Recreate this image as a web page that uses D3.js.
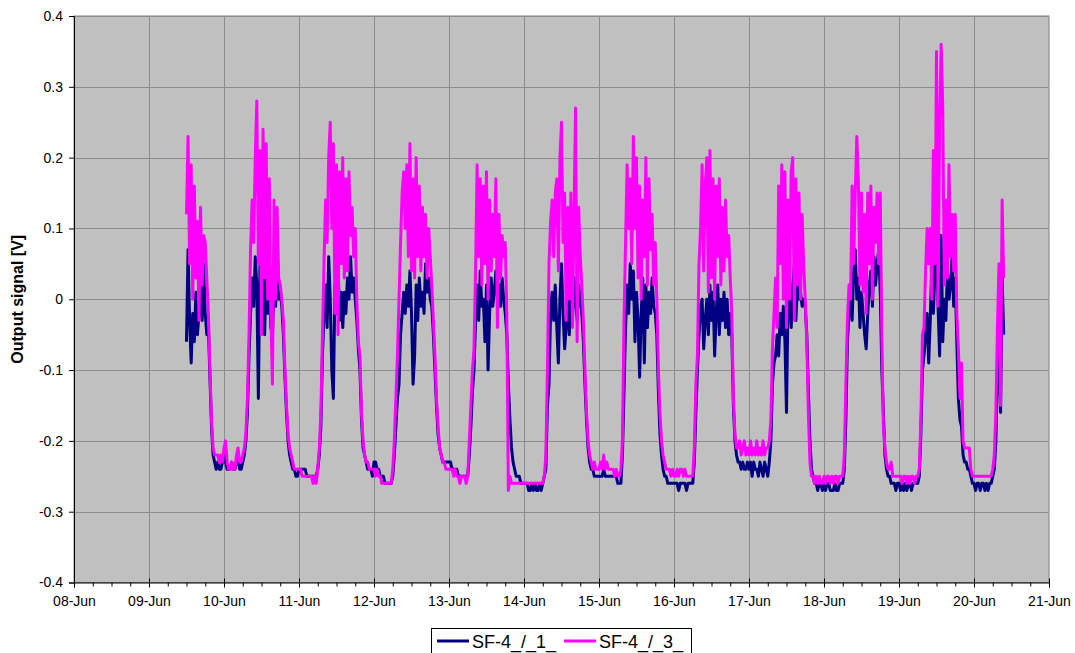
<!DOCTYPE html>
<html>
<head>
<meta charset="utf-8">
<script src="https://cdn.jsdelivr.net/npm/d3@7"></script>
<style>
  body { margin: 0; background: #fff; }
  svg { display: block; font-family: Arial, "Liberation Sans", sans-serif; }
</style>
</head>
<body>
<svg width="1075" height="653"></svg>
<script>
// axis setup
const yTicks = [-0.4, -0.3, -0.2, -0.1, 0, 0.1, 0.2, 0.3, 0.4]
const xStart = '2007-06-08'
const xEnd = '2007-06-21'

// readings every half hour, one array per day
// first day starts at noon, last day stops at 09:30
const dataDays = ['2007-06-09', '2007-06-10', '2007-06-11', '2007-06-12', '2007-06-13', '2007-06-14',
  '2007-06-15', '2007-06-16', '2007-06-17', '2007-06-18', '2007-06-19', '2007-06-20']
const firstHour = 12
const stepHours = 0.5

// SF-4_/_1_ (navy)
const sf41_09 = [-0.06, 0.07, -0.03, -0.09, -0.02, -0.06, 0.01, -0.05, -0.02, 0.03, -0.03, 0.05,
  -0.02, -0.05, -0.04, -0.11, -0.18, -0.22, -0.23, -0.24, -0.23, -0.24, -0.24, -0.23]
const sf41_10 = [-0.22, -0.23, -0.24, -0.24, -0.24, -0.23, -0.24, -0.24, -0.23, -0.22, -0.24, -0.24,
  -0.23, -0.22, -0.2, -0.16, -0.08, -0.02, 0.03, -0.01, 0.06, 0.02, -0.14, 0.05,
  -0.03, 0.07, -0.05, 0.04, -0.02, 0.03, -0.04, -0.05, 0.02, -0.01, 0.04, 0.0,
  0.01, -0.01, -0.05, -0.11, -0.16, -0.2, -0.22, -0.23, -0.24, -0.24, -0.25, -0.25]
const sf41_11 = [-0.24, -0.24, -0.24, -0.24, -0.24, -0.25, -0.25, -0.25, -0.25, -0.25, -0.25, -0.25,
  -0.24, -0.22, -0.18, -0.08, -0.02, 0.02, -0.04, 0.06, 0.0, -0.1, -0.14, 0.02,
  -0.02, 0.05, -0.03, 0.01, -0.04, 0.01, -0.02, 0.03, 0.0, 0.06, 0.01, 0.03,
  0.0, -0.03, -0.07, -0.1, -0.17, -0.21, -0.22, -0.23, -0.24, -0.24, -0.24, -0.25]
const sf41_12 = [-0.23, -0.23, -0.24, -0.24, -0.25, -0.25, -0.25, -0.26, -0.26, -0.26, -0.26, -0.26,
  -0.25, -0.22, -0.18, -0.14, -0.12, -0.05, -0.02, 0.01, -0.02, 0.02, -0.01, 0.04,
  -0.02, -0.12, -0.08, 0.02, -0.03, 0.03, -0.01, 0.01, -0.02, 0.05, 0.01, 0.03,
  0.0, -0.01, -0.05, -0.1, -0.15, -0.19, -0.21, -0.22, -0.23, -0.23, -0.23, -0.23]
const sf41_13 = [-0.23, -0.23, -0.24, -0.24, -0.24, -0.24, -0.25, -0.25, -0.25, -0.25, -0.25, -0.25,
  -0.25, -0.22, -0.18, -0.13, -0.1, -0.03, 0.02, -0.03, 0.04, -0.01, 0.0, -0.06,
  0.02, -0.1, -0.02, 0.03, -0.01, 0.01, 0.04, 0.0, 0.02, -0.01, 0.03, 0.0,
  -0.02, -0.05, -0.12, -0.17, -0.21, -0.23, -0.24, -0.25, -0.25, -0.25, -0.26, -0.26]
const sf41_14 = [-0.26, -0.26, -0.26, -0.27, -0.27, -0.26, -0.27, -0.26, -0.27, -0.27, -0.26, -0.27,
  -0.26, -0.25, -0.24, -0.15, -0.12, -0.02, 0.01, -0.03, 0.02, -0.04, -0.09, 0.0,
  0.05, -0.02, -0.07, -0.04, 0.02, -0.05, 0.01, -0.03, 0.03, 0.0, -0.03, 0.02,
  0.0, -0.02, -0.06, -0.12, -0.17, -0.21, -0.23, -0.24, -0.24, -0.25, -0.25, -0.25]
const sf41_15 = [-0.25, -0.25, -0.25, -0.24, -0.25, -0.25, -0.25, -0.25, -0.25, -0.25, -0.25, -0.25,
  -0.26, -0.26, -0.26, -0.22, -0.13, -0.04, 0.02, -0.02, 0.05, 0.0, 0.04, -0.06,
  0.01, -0.03, -0.11, -0.02, 0.03, -0.09, 0.02, -0.04, 0.01, -0.02, 0.03, -0.01,
  -0.02, -0.05, -0.13, -0.19, -0.22, -0.24, -0.25, -0.25, -0.26, -0.26, -0.26, -0.26]
const sf41_16 = [-0.26, -0.26, -0.26, -0.27, -0.26, -0.26, -0.26, -0.26, -0.27, -0.26, -0.26, -0.26,
  -0.26, -0.23, -0.16, -0.1, -0.05, -0.01, 0.0, -0.07, -0.03, 0.0, -0.05, 0.02,
  -0.03, 0.01, -0.08, -0.02, 0.02, -0.05, 0.0, -0.03, 0.01, -0.04, 0.0, -0.05,
  -0.02, -0.05, -0.15, -0.2, -0.22, -0.23, -0.23, -0.24, -0.23, -0.24, -0.24, -0.23]
const sf41_17 = [-0.24, -0.23, -0.25, -0.23, -0.24, -0.24, -0.25, -0.23, -0.24, -0.25, -0.23, -0.24,
  -0.25, -0.23, -0.2, -0.12, -0.09, -0.08, -0.05, -0.08, -0.02, -0.05, -0.01, -0.06,
  -0.16, 0.0, 0.03, -0.04, 0.01, 0.05, -0.03, 0.02, 0.0, 0.01, -0.01, 0.0,
  -0.01, -0.05, -0.13, -0.2, -0.24, -0.25, -0.26, -0.26, -0.27, -0.26, -0.26, -0.27]
const sf41_18 = [-0.26, -0.27, -0.26, -0.26, -0.27, -0.27, -0.27, -0.26, -0.27, -0.27, -0.26, -0.26,
  -0.26, -0.24, -0.17, -0.06, -0.02, 0.02, -0.03, 0.04, 0.07, 0.0, 0.03, -0.04,
  0.01, -0.02, -0.05, -0.07, -0.02, 0.02, 0.04, -0.01, 0.06, 0.02, 0.05, 0.07,
  0.01, -0.1, -0.16, -0.22, -0.24, -0.25, -0.25, -0.26, -0.26, -0.26, -0.27, -0.26]
const sf41_19 = [-0.26, -0.27, -0.26, -0.27, -0.26, -0.27, -0.26, -0.26, -0.27, -0.26, -0.26, -0.26,
  -0.26, -0.25, -0.19, -0.1, -0.08, -0.05, -0.02, -0.09, -0.03, 0.05, -0.02, 0.04,
  0.09, -0.01, -0.08, 0.09, -0.06, 0.0, -0.03, 0.04, 0.0, 0.02, 0.06, -0.01,
  0.03, -0.06, -0.14, -0.17, -0.18, -0.22, -0.23, -0.23, -0.24, -0.24, -0.25, -0.26]
const sf41_20 = [-0.26, -0.27, -0.26, -0.26, -0.27, -0.26, -0.26, -0.27, -0.26, -0.27, -0.26, -0.26,
  -0.25, -0.24, -0.2, -0.1, -0.06, -0.16, 0.03, -0.05]

// SF-4_/_3_ (magenta)
const sf43_09 = [0.12, 0.23, 0.05, 0.19, 0.0, 0.16, 0.03, 0.11, -0.03, 0.13, 0.02, 0.09,
  0.08, 0.03, -0.02, -0.1, -0.17, -0.21, -0.22, -0.22, -0.22, -0.23, -0.22, -0.23]
const sf43_10 = [-0.21, -0.2, -0.23, -0.24, -0.24, -0.23, -0.24, -0.24, -0.22, -0.21, -0.23, -0.23,
  -0.22, -0.21, -0.19, -0.14, -0.05, 0.07, 0.14, 0.08, 0.2, 0.28, 0.05, 0.21,
  -0.05, 0.24, 0.03, 0.22, 0.0, 0.17, -0.02, -0.12, 0.14, 0.0, 0.13, 0.03,
  0.02, 0.0, -0.03, -0.1, -0.15, -0.19, -0.21, -0.22, -0.23, -0.24, -0.24, -0.24]
const sf43_11 = [-0.24, -0.24, -0.25, -0.25, -0.25, -0.25, -0.25, -0.25, -0.25, -0.26, -0.25, -0.26,
  -0.24, -0.21, -0.16, -0.05, 0.05, 0.14, 0.08, 0.2, 0.25, 0.1, 0.22, -0.02,
  0.19, -0.05, 0.18, 0.05, 0.2, 0.03, 0.17, 0.04, 0.18, 0.09, 0.13, 0.06,
  0.1, 0.0, -0.06, -0.08, -0.16, -0.2, -0.22, -0.23, -0.23, -0.24, -0.24, -0.24]
const sf43_12 = [-0.24, -0.25, -0.24, -0.25, -0.25, -0.26, -0.26, -0.26, -0.26, -0.26, -0.26, -0.26,
  -0.24, -0.2, -0.14, -0.08, 0.0, 0.08, 0.15, 0.18, 0.1, 0.19, 0.06, 0.22,
  0.04, 0.17, 0.03, 0.2, 0.06, 0.16, 0.04, 0.13, 0.06, 0.12, 0.03, 0.1,
  0.06, 0.02, -0.03, -0.08, -0.14, -0.18, -0.21, -0.22, -0.23, -0.23, -0.24, -0.24]
const sf43_13 = [-0.24, -0.24, -0.24, -0.25, -0.24, -0.25, -0.25, -0.26, -0.25, -0.25, -0.25, -0.26,
  -0.25, -0.2, -0.15, -0.1, -0.07, 0.04, 0.19, 0.06, 0.17, 0.02, 0.16, 0.05,
  0.18, 0.0, 0.14, 0.04, 0.12, 0.06, 0.17, -0.04, 0.12, 0.03, 0.09, 0.06,
  0.08, -0.02, -0.27, -0.25, -0.26, -0.26, -0.26, -0.26, -0.26, -0.26, -0.26, -0.26]
const sf43_14 = [-0.26, -0.26, -0.26, -0.26, -0.26, -0.26, -0.26, -0.26, -0.26, -0.26, -0.26, -0.26,
  -0.26, -0.25, -0.22, -0.1, 0.05, 0.11, 0.14, 0.06, 0.15, 0.17, 0.04, 0.2,
  0.25, 0.08, 0.15, -0.03, 0.13, 0.0, 0.15, -0.04, 0.12, 0.27, -0.06, 0.13,
  0.06, 0.02, -0.03, -0.1, -0.16, -0.2, -0.22, -0.23, -0.24, -0.23, -0.24, -0.24]
const sf43_15 = [-0.24, -0.23, -0.24, -0.22, -0.24, -0.23, -0.24, -0.24, -0.24, -0.24, -0.25, -0.24,
  -0.25, -0.25, -0.24, -0.2, -0.03, 0.08, 0.19, 0.1, 0.17, 0.05, 0.23, 0.1,
  0.2, 0.03, 0.16, 0.0, 0.14, 0.06, 0.2, 0.02, 0.17, 0.07, 0.12, 0.02,
  0.08, 0.0, -0.1, -0.16, -0.2, -0.22, -0.23, -0.24, -0.24, -0.24, -0.25, -0.24]
const sf43_16 = [-0.25, -0.25, -0.24, -0.25, -0.24, -0.24, -0.25, -0.24, -0.25, -0.25, -0.25, -0.25,
  -0.25, -0.21, -0.12, -0.08, 0.05, 0.1, 0.19, 0.04, 0.16, 0.2, 0.01, 0.21,
  0.03, 0.17, 0.0, 0.16, 0.06, 0.17, 0.02, 0.13, 0.04, 0.14, 0.06, 0.09,
  0.03, -0.02, -0.14, -0.19, -0.21, -0.21, -0.2, -0.22, -0.21, -0.2, -0.22, -0.21]
const sf43_17 = [-0.22, -0.2, -0.22, -0.21, -0.22, -0.2, -0.22, -0.21, -0.22, -0.2, -0.22, -0.21,
  -0.21, -0.2, -0.17, -0.07, -0.02, 0.03, -0.04, 0.16, 0.05, 0.19, 0.0, 0.18,
  -0.04, 0.14, 0.0, 0.18, 0.2, -0.03, 0.17, 0.02, 0.15, 0.0, 0.12, 0.05,
  0.0, -0.06, -0.16, -0.23, -0.25, -0.25, -0.26, -0.25, -0.26, -0.25, -0.26, -0.26]
const sf43_18 = [-0.25, -0.26, -0.25, -0.25, -0.26, -0.25, -0.26, -0.25, -0.25, -0.26, -0.25, -0.25,
  -0.25, -0.22, -0.12, -0.03, 0.02, 0.0, 0.16, 0.05, 0.15, 0.23, 0.17, 0.02,
  0.15, 0.01, 0.12, -0.02, 0.15, 0.05, 0.16, 0.0, 0.13, 0.08, 0.15, 0.05,
  0.15, -0.05, -0.18, -0.21, -0.23, -0.24, -0.24, -0.23, -0.25, -0.25, -0.25, -0.25]
const sf43_19 = [-0.25, -0.25, -0.26, -0.25, -0.25, -0.26, -0.25, -0.26, -0.25, -0.25, -0.26, -0.25,
  -0.25, -0.24, -0.17, -0.05, -0.04, 0.04, 0.1, 0.05, 0.1, 0.0, 0.21, 0.05,
  0.35, -0.01, 0.25, 0.36, 0.27, 0.02, 0.14, 0.03, 0.19, 0.06, 0.12, 0.04,
  0.12, -0.02, -0.07, -0.14, -0.09, -0.2, -0.21, -0.21, -0.21, -0.21, -0.24, -0.25]
const sf43_20 = [-0.25, -0.25, -0.25, -0.25, -0.25, -0.25, -0.25, -0.25, -0.25, -0.25, -0.25, -0.25,
  -0.24, -0.22, -0.16, -0.04, 0.05, -0.15, 0.14, 0.03]

const seriesNames = ['SF-4_/_1_', 'SF-4_/_3_']
const seriesColors = ['#000080', '#ff00ff']
const sf41 = [sf41_09, sf41_10, sf41_11, sf41_12, sf41_13, sf41_14, sf41_15, sf41_16, sf41_17, sf41_18, sf41_19, sf41_20]
const sf43 = [sf43_09, sf43_10, sf43_11, sf43_12, sf43_13, sf43_14, sf43_15, sf43_16, sf43_17, sf43_18, sf43_19, sf43_20]

const svg = d3.select('svg')
const plotLeft = 74, plotRight = 1049, plotTop = 16, plotBottom = 582.5

const x = d3.scaleUtc()
  .domain([new Date(xStart + 'T00:00Z'), new Date(xEnd + 'T00:00Z')])
  .range([plotLeft, plotRight])
const y = d3.scaleLinear().domain([-0.4, 0.4]).range([plotBottom, plotTop])

function toPoints(days) {
  return days.flatMap((vals, i) => {
    const dayStart = Date.parse(dataDays[i] + 'T00:00Z')
    const h0 = i === 0 ? firstHour : 0
    return vals.map((v, j) => ({ t: new Date(dayStart + (h0 + j * stepHours) * 3600e3), v }))
  })
}

drawPlotArea()
drawLines()
drawAxes()
drawLegend()

function drawPlotArea() {
  svg.append('rect')
    .attr('x', plotLeft).attr('y', plotTop)
    .attr('width', plotRight - plotLeft).attr('height', plotBottom - plotTop)
    .attr('fill', '#c0c0c0')
    .attr('stroke', '#808080')

  const days = d3.utcDay.range(x.domain()[0], x.domain()[1]).slice(1)
  svg.append('g')
    .selectAll('line')
    .data(days)
    .enter()
    .append('line')
    .attr('x1', d => Math.round(x(d)) + 0.5)
    .attr('x2', d => Math.round(x(d)) + 0.5)
    .attr('y1', plotTop).attr('y2', plotBottom)
    .attr('stroke', '#8c8c8c')

  svg.append('g')
    .selectAll('line')
    .data(yTicks.slice(1))
    .enter()
    .append('line')
    .attr('x1', plotLeft).attr('x2', plotRight)
    .attr('y1', d => Math.round(y(d)) + 0.5)
    .attr('y2', d => Math.round(y(d)) + 0.5)
    .attr('stroke', '#8c8c8c')
}

function drawLines() {
  const line = d3.line()
    .x(d => x(d.t))
    .y(d => y(d.v))

  ;[sf41, sf43].forEach((s, i) => {
    svg.append('path')
      .datum(toPoints(s))
      .attr('fill', 'none')
      .attr('stroke', seriesColors[i])
      .attr('stroke-width', 3)
      .attr('stroke-linejoin', 'round')
      .attr('d', line)
  })
}

function drawAxes() {
  const yAxis = svg.append('g')
    .attr('transform', `translate(${plotLeft},0)`)
    .call(d3.axisLeft(y)
      .tickValues(yTicks)
      .tickSize(5)
      .tickPadding(6)
      .tickFormat(d => d === 0 ? '0' : d.toFixed(1)))
  yAxis.select('.domain').attr('stroke', '#000')

  // minor ticks every 6 hours
  const minor = d3.utcHour.every(6).range(x.domain()[0], x.domain()[1])
    .filter(d => d.getUTCHours() !== 0)
  svg.append('g')
    .attr('transform', `translate(0,${plotBottom})`)
    .call(d3.axisBottom(x).tickValues(minor).tickSize(4).tickFormat(''))
    .select('.domain').remove()

  const xAxis = svg.append('g')
    .attr('transform', `translate(0,${plotBottom})`)
    .call(d3.axisBottom(x)
      .ticks(d3.utcDay.every(1))
      .tickSize(5)
      .tickPadding(9)
      .tickFormat(d3.utcFormat('%d-%b')))
  xAxis.selectAll('.tick line').attr('y1', -4)

  svg.selectAll('.tick text')
    .attr('font-size', 14)
    .attr('font-family', 'Arial, "Liberation Sans", sans-serif')
    .attr('fill', '#000')

  svg.append('text')
    .attr('transform', `translate(23,${(plotTop + plotBottom) / 2}) rotate(-90)`)
    .attr('text-anchor', 'middle')
    .attr('font-size', 16)
    .attr('font-weight', 'bold')
    .text('Output signal [V]')
}

function drawLegend() {
  const g = svg.append('g')
  g.append('rect')
    .attr('x', 431.5).attr('y', 628.5)
    .attr('width', 260).attr('height', 34)
    .attr('fill', '#fff')
    .attr('stroke', '#000')

  const offsets = [437, 564]
  seriesNames.forEach((name, i) => {
    g.append('line')
      .attr('x1', offsets[i]).attr('x2', offsets[i] + 32)
      .attr('y1', 641).attr('y2', 641)
      .attr('stroke', seriesColors[i])
      .attr('stroke-width', 3)
    g.append('text')
      .attr('x', offsets[i] + 35)
      .attr('y', 648)
      .attr('font-size', 18)
      .text(name)
  })
}
</script>
</body>
</html>
